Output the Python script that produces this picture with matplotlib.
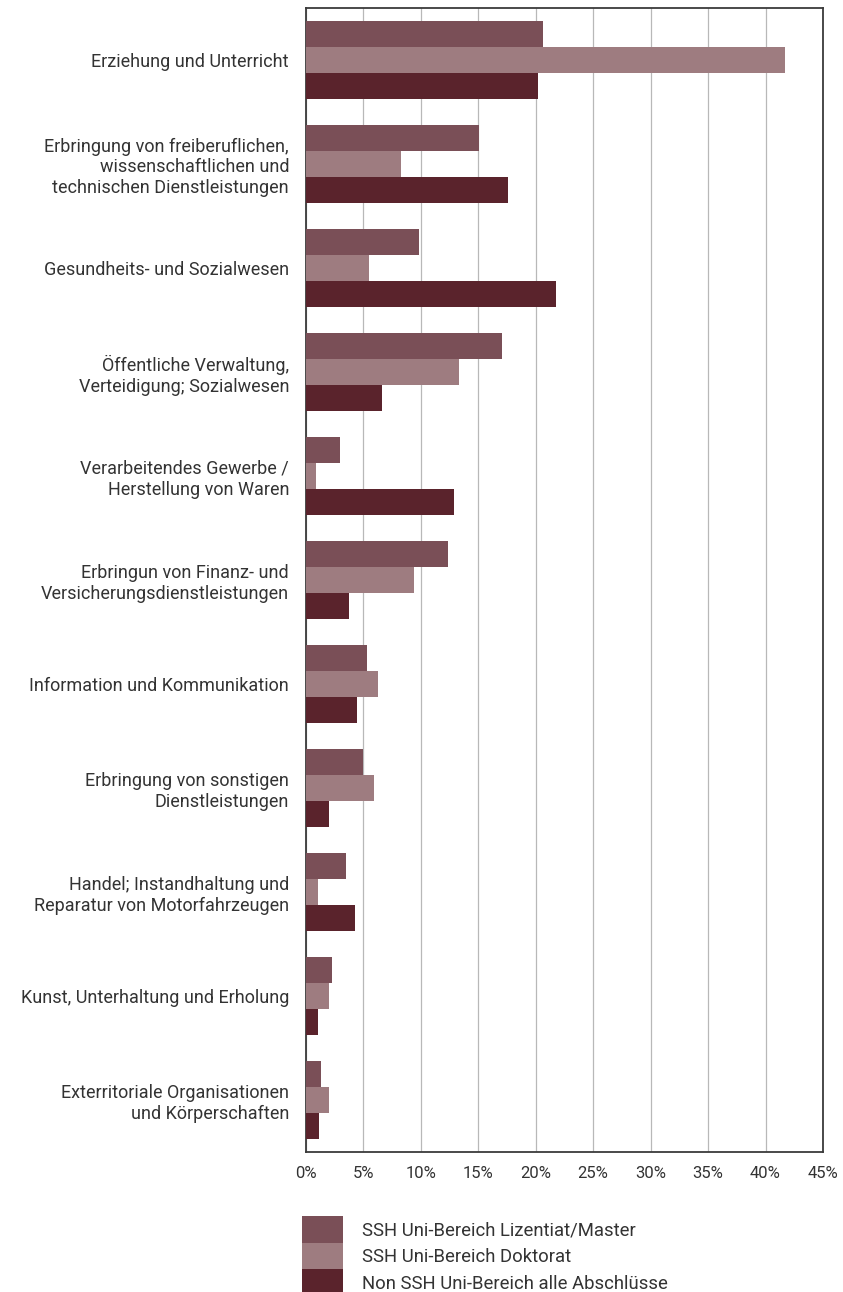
import matplotlib
matplotlib.use("Agg")
import matplotlib.pyplot as plt
from matplotlib import font_manager
import numpy as np

names = {f.name for f in font_manager.fontManager.ttflist}
fam = [f for f in ["Roboto", "DejaVu Sans"] if f in names]
plt.rcParams['font.family'] = fam

categories = [
    "Erziehung und Unterricht",
    "Erbringung von freiberuflichen,\nwissenschaftlichen und\ntechnischen Dienstleistungen",
    "Gesundheits- und Sozialwesen",
    "Öffentliche Verwaltung,\nVerteidigung; Sozialwesen",
    "Verarbeitendes Gewerbe /\nHerstellung von Waren",
    "Erbringun von Finanz- und\nVersicherungsdienstleistungen",
    "Information und Kommunikation",
    "Erbringung von sonstigen\nDienstleistungen",
    "Handel; Instandhaltung und\nReparatur von Motorfahrzeugen",
    "Kunst, Unterhaltung und Erholung",
    "Exterritoriale Organisationen\nund Körperschaften",
]
series_names = ["SSH Uni-Bereich Lizentiat/Master",
                "SSH Uni-Bereich Doktorat",
                "Non SSH Uni-Bereich alle Abschlüsse"]
master = [20.6, 15.1, 9.9, 17.1, 3.0, 12.4, 5.3, 5.0, 3.5, 2.3, 1.3]
doktorat = [41.7, 8.3, 5.5, 13.3, 0.9, 9.4, 6.3, 5.9, 1.1, 2.0, 2.0]
non_ssh = [20.2, 17.6, 21.8, 6.6, 12.9, 3.8, 4.5, 2.0, 4.3, 1.1, 1.2]
xticks = [0, 5, 10, 15, 20, 25, 30, 35, 40, 45]
xticklabels = [f"{t}%" for t in xticks]
colors = ["#7a4f57", "#9e7c80", "#5a232c"]

fig = plt.figure(figsize=(8.43, 12.92), dpi=100)
ax = fig.add_axes([0.3626, 0.1084, 0.9763 - 0.3626, 0.9938 - 0.1084])

n = len(categories)
y = np.arange(n)
h = 0.25
for i, (vals, c, lab) in enumerate(zip([master, doktorat, non_ssh], colors, series_names)):
    ax.barh(y + (i - 1) * h, vals, height=h, color=c, label=lab, zorder=3)

ax.set_ylim(n - 0.5, -0.5)
ax.set_xlim(0, 45)
ax.set_xticks(xticks)
ax.set_xticklabels(xticklabels, fontsize=12, color="#333333")
ax.set_yticks(y)
ax.set_yticklabels(categories, fontsize=13, color="#333333", linespacing=1.2)
ax.tick_params(axis="both", length=0)
ax.tick_params(axis="x", pad=10)
ax.tick_params(axis="y", pad=12)
ax.grid(axis="x", color="#b8b8b8", linewidth=0.9, zorder=0)
for s in ax.spines.values():
    s.set_color("#3a3a3a")
    s.set_linewidth(1.3)

handles, labels = ax.get_legend_handles_labels()
leg = fig.legend(handles, labels, loc="upper left", bbox_to_anchor=(0.358, 0.059),
                 frameon=False, fontsize=13.3, labelspacing=0, handlelength=2.25,
                 handleheight=1.85, handletextpad=1.0, borderpad=0, borderaxespad=0)
for t in leg.get_texts():
    t.set_color("#333333")

fig.savefig("out.png", dpi=100)
